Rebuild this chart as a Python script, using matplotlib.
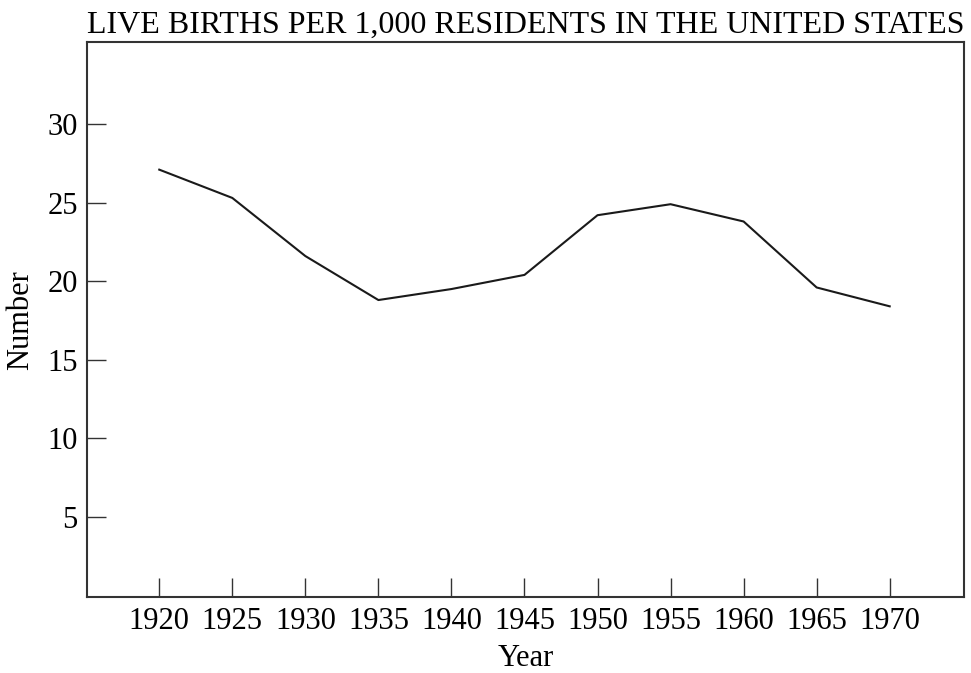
import matplotlib
matplotlib.use("Agg")
import matplotlib.pyplot as plt

# live births per 1,000 residents
years = [1920, 1925, 1930, 1935, 1940, 1945, 1950, 1955, 1960, 1965, 1970]
births = [27.1, 25.3, 21.6, 18.8, 19.5, 20.4, 24.2, 24.9, 23.8, 19.6, 18.4]
y_ticks = [5, 10, 15, 20, 25, 30]

plt.rcParams['font.family'] = ['Liberation Serif', 'DejaVu Serif']

fig = plt.figure(figsize=(9.71, 6.73), dpi=100)
ax = fig.add_axes([0.090, 0.113, 0.903, 0.824])

ax.plot(years, births, color="#1a1a1a", linewidth=1.5)

ax.set_xlim(1915.08, 1975.1)
ax.set_ylim(-0.1, 35.2)
ax.set_xticks(years)
ax.set_yticks(y_ticks)
ax.tick_params(direction="in", length=14, width=1.0, color="#333333",
               labelsize=22, pad=7)

for s in ax.spines.values():
    s.set_color("#333333")
    s.set_linewidth(1.5)

ax.set_xlabel("Year", fontsize=22, labelpad=6)
ax.set_ylabel("Number", fontsize=22, labelpad=9)
ax.set_title("LIVE BIRTHS PER 1,000 RESIDENTS IN THE UNITED STATES",
             fontsize=23, loc="right", pad=7)

fig.savefig("out.png", dpi=100)
